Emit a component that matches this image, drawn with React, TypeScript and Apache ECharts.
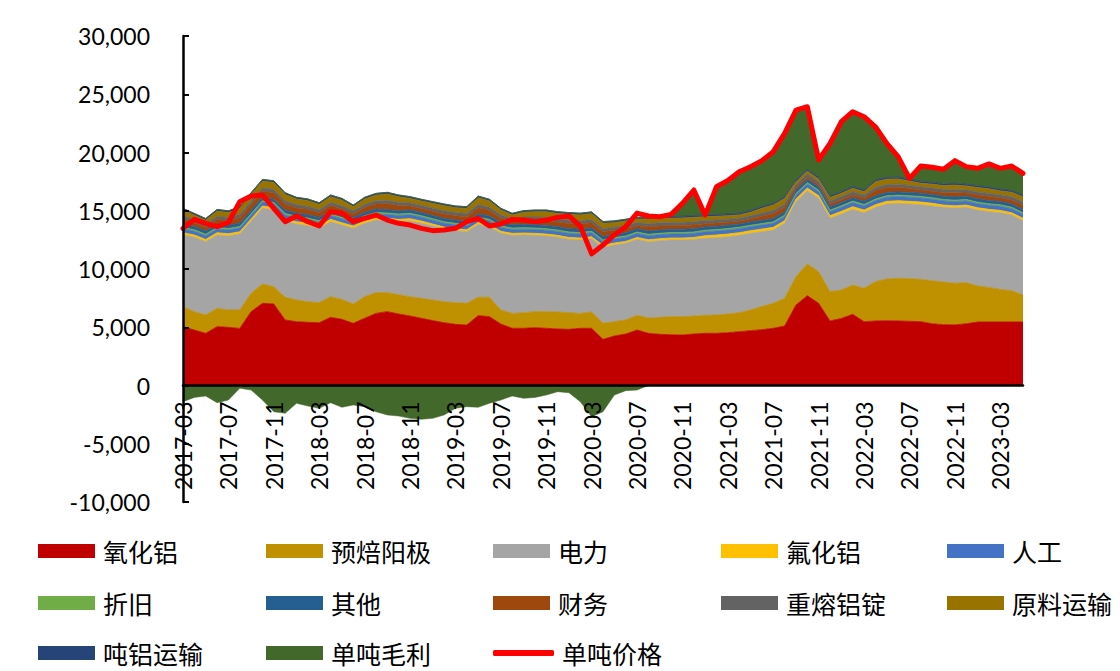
import React, { useEffect, useRef } from 'react';
import * as echarts from 'echarts';

const months = [
  '2017-03','2017-04','2017-05','2017-06','2017-07','2017-08','2017-09','2017-10','2017-11','2017-12',
  '2018-01','2018-02','2018-03','2018-04','2018-05','2018-06','2018-07','2018-08','2018-09','2018-10','2018-11','2018-12',
  '2019-01','2019-02','2019-03','2019-04','2019-05','2019-06','2019-07','2019-08','2019-09','2019-10','2019-11','2019-12',
  '2020-01','2020-02','2020-03','2020-04','2020-05','2020-06','2020-07','2020-08','2020-09','2020-10','2020-11','2020-12',
  '2021-01','2021-02','2021-03','2021-04','2021-05','2021-06','2021-07','2021-08','2021-09','2021-10','2021-11','2021-12',
  '2022-01','2022-02','2022-03','2022-04','2022-05','2022-06','2022-07','2022-08','2022-09','2022-10','2022-11','2022-12',
  '2023-01','2023-02','2023-03','2023-04','2023-05',
];

// 氧化铝
const alumina = [
  5050,4760,4480,5050,4990,4900,6340,7050,7000,5620,
  5480,5420,5390,5850,5680,5340,5770,6190,6340,6140,5970,5770,
  5570,5390,5250,5190,6000,5910,5280,4910,4910,4960,4910,4850,
  4820,4910,4910,3960,4250,4420,4760,4480,4390,4360,4330,4420,
  4480,4480,4530,4620,4710,4790,4910,5110,6910,7710,7050,5540,
  5760,6110,5480,5540,5560,5540,5510,5480,5300,5220,5200,5300,
  5450,5450,5450,5450,5450,
];
// 预焙阳极
const anode = [
  1710,1580,1570,1570,1490,1580,1570,1660,1480,1950,
  1860,1770,1720,1770,1710,1650,1850,1780,1630,1650,1650,1710,
  1770,1800,1860,1860,1580,1660,1200,1280,1340,1380,1430,1460,
  1430,1280,1400,1380,1230,1200,1260,1310,1460,1550,1580,1540,
  1540,1570,1610,1630,1770,2000,2140,2370,2430,2720,2720,2510,
  2430,2510,2860,3370,3580,3660,3660,3630,3690,3660,3570,3520,
  3090,2970,2800,2690,2320,
];
// 电力
const power = [
  6160,6380,6290,6300,6350,6520,6190,6500,6580,6550,
  6520,6530,6380,6440,6380,6500,6300,6230,6180,6270,6500,6440,
  6350,6240,6180,6150,6240,6060,6580,6700,6670,6550,6490,6410,
  6290,6300,6290,6520,6580,6580,6520,6550,6580,6580,6580,6580,
  6610,6640,6630,6640,6580,6410,6300,6440,6440,6290,6290,6300,
  6530,6500,6490,6380,6440,6430,6410,6410,6420,6410,6460,6470,
  6520,6500,6580,6490,6380,
];
// 氟化铝
const fluoride = [
  200,200,200,200,200,200,200,200,200,200,
  200,200,200,200,200,200,200,200,200,200,200,200,
  170,170,170,170,170,170,170,170,170,170,170,170,
  170,170,170,170,170,170,170,170,170,170,170,170,
  230,230,230,230,230,230,230,230,230,230,230,230,
  230,230,230,230,230,230,230,230,230,200,200,200,
  200,200,200,200,200,
];
// 人工
const labor = [
  320,320,320,320,320,320,320,320,320,320,
  330,330,330,330,330,330,330,330,330,330,330,330,
  330,330,330,330,330,330,330,330,330,330,330,330,
  340,340,340,340,340,340,340,340,340,340,340,340,
  340,340,340,340,340,340,340,340,340,340,340,340,
  350,350,350,350,350,350,350,350,350,350,350,350,
  350,350,350,350,350,
];
// 折旧
const depreciation = [
  130,130,130,130,130,130,130,130,130,130,
  130,130,130,130,130,130,130,130,130,130,130,130,
  130,130,130,130,130,130,130,130,130,130,130,130,
  130,130,130,130,130,130,130,130,130,130,130,130,
  130,130,130,130,130,130,130,130,130,130,130,130,
  130,130,130,130,130,130,130,130,130,130,130,130,
  130,130,130,130,130,
];
// 其他
const other = [
  280,280,280,280,280,280,280,280,280,280,
  280,280,280,280,280,280,280,280,280,280,280,280,
  280,280,280,280,280,280,280,280,280,280,280,280,
  280,280,280,280,280,280,280,280,280,280,280,280,
  280,280,280,280,280,280,280,280,280,280,280,280,
  280,280,280,280,280,280,280,280,280,280,280,280,
  280,280,280,280,280,
];
// 财务
const finance = [
  440,325,295,395,380,470,520,540,555,510,
  440,440,395,440,440,295,410,440,510,440,340,325,
  355,385,370,385,530,485,385,255,355,395,425,410,
  455,455,455,410,340,340,255,355,340,310,325,325,
  280,270,255,225,255,355,420,420,205,180,180,240,
  235,250,250,450,410,395,335,265,280,295,345,280,
  325,340,295,340,380,
];
// 重熔铝锭
const remelt = [
  270,270,270,270,270,270,270,270,270,270,
  270,270,270,270,270,270,270,270,270,270,270,270,
  270,270,270,270,270,270,270,270,270,270,270,270,
  270,270,270,270,270,270,270,270,270,270,270,270,
  270,270,270,270,270,270,270,270,270,270,270,270,
  270,270,270,270,270,270,270,270,270,270,270,270,
  270,270,270,270,270,
];
// 原料运输
const materialFreight = [
  490,375,345,445,430,520,570,590,605,560,
  490,490,445,490,490,345,460,490,560,490,390,375,
  405,435,420,435,580,535,435,305,405,445,475,460,
  505,505,505,460,390,390,305,405,390,360,375,375,
  330,320,305,275,305,405,470,470,255,230,230,290,
  285,300,300,500,460,445,385,315,330,345,395,330,
  375,390,345,390,430,
];
// 吨铝运输
const ingotFreight = [
  150,150,150,150,150,150,150,150,150,150,
  150,150,150,150,150,150,150,150,150,150,150,150,
  150,150,150,150,150,150,150,150,150,150,150,150,
  150,150,150,150,150,150,150,150,150,150,150,150,
  150,150,150,150,150,150,150,150,150,150,150,150,
  150,150,150,150,150,150,150,150,150,150,150,150,
  150,150,150,150,150,
];
// 单吨毛利
const profit = [
  -1390,-1020,-900,-1470,-1250,-240,-390,-1250,-2250,-2390,
  -1530,-1760,-1960,-1470,-1870,-1670,-1820,-2250,-2530,-2620,-2820,-2900,
  -2820,-2530,-1960,-1820,-1870,-1530,-1250,-900,-1100,-1020,-820,-530,
  -620,-1390,-2680,-2250,-820,-440,-390,110,0,190,1100,2200,
  0,2380,2870,3560,3760,3940,4430,5430,6000,5400,1490,4500,
  5990,6420,6280,4560,2920,1760,70,1330,1300,1250,1950,1510,
  1500,1990,1790,2100,1870,
];
// 单吨价格
const price = [
  13490,14260,13920,13630,13980,15780,16260,16350,15200,14060,
  14550,14060,13690,14920,14780,14060,14350,14630,14200,13920,13770,13490,
  13290,13350,13490,14060,14350,13690,13860,14260,14200,14060,14200,14430,
  14550,13690,11300,12060,12920,13630,14800,14550,14490,14690,15630,16780,
  14630,17060,17600,18350,18780,19300,20070,21640,23640,23930,19360,20780,
  22640,23500,23070,22210,20780,19640,17780,18840,18730,18560,19300,18790,
  18640,19020,18640,18840,18210,
];

const yMin = -10000;
const yMax = 30000;
const yStep = 5000;

const costNames = ['氧化铝','预焙阳极','电力','氟化铝','人工','折旧','其他','财务','重熔铝锭','原料运输','吨铝运输'];
const costData = [alumina, anode, power, fluoride, labor, depreciation, other, finance, remelt, materialFreight, ingotFreight];
const costColors = ['#C00000','#BF9000','#A5A5A5','#FFC000','#4472C4','#70AD47','#255E91','#9E480E','#636363','#997300','#264478'];
const profitName = '单吨毛利';
const profitColor = '#43682B';
const priceName = '单吨价格';
const priceColor = '#FF0000';

const legendOrder = [
  '氧化铝','预焙阳极','电力','氟化铝','人工',
  '折旧','其他','财务','重熔铝锭','原料运输',
  '吨铝运输','单吨毛利','单吨价格',
];

export default function App() {
  const ref = useRef<HTMLDivElement>(null);
  useEffect(() => {
    if (!ref.current) return;
    const chart = echarts.init(ref.current, null, { renderer: 'svg' });

    const gridTop = 36;
    const gridBottom = 169;
    const gridHeight = 671 - gridTop - gridBottom;
    // distance from grid bottom up to the zero line
    const zeroOffset = (gridHeight * (0 - yMin)) / (yMax - yMin);

    const series: any[] = costNames.map((name, i) => ({
      name,
      type: 'line',
      stack: 'total',
      data: costData[i],
      symbol: 'none',
      showSymbol: false,
      color: costColors[i],
      itemStyle: { color: costColors[i] },
      lineStyle: { width: 0.8, color: costColors[i] },
      areaStyle: { color: costColors[i], opacity: 1 },
      silent: true,
    }));
    series.push({
      name: profitName,
      type: 'line',
      stack: 'total',
      data: profit.map((v) => (v > 0 ? v : 0)),
      symbol: 'none',
      showSymbol: false,
      color: profitColor,
      itemStyle: { color: profitColor },
      lineStyle: { width: 0.8, color: profitColor },
      areaStyle: { color: profitColor, opacity: 1 },
      silent: true,
    });
    series.push({
      name: profitName,
      type: 'line',
      data: profit.map((v) => (v < 0 ? v : 0)),
      symbol: 'none',
      showSymbol: false,
      color: profitColor,
      itemStyle: { color: profitColor },
      lineStyle: { width: 0.5, color: profitColor },
      areaStyle: { color: profitColor, opacity: 1 },
      silent: true,
    });
    series.push({
      name: priceName,
      type: 'line',
      data: price,
      symbol: 'none',
      showSymbol: false,
      color: priceColor,
      itemStyle: { color: priceColor },
      lineStyle: { width: 5, color: priceColor, join: 'round', cap: 'round' },
      silent: true,
      z: 5,
    });

    const colLeft = [38, 266, 493, 721, 947];
    const rowCenter = [551, 603, 653];
    const legends = legendOrder.map((name, i) => {
      const col = i % 5;
      const row = Math.floor(i / 5);
      const isLine = name === priceName;
      return {
        data: [{ name, icon: isLine ? 'roundRect' : 'rect' }],
        left: colLeft[col],
        top: rowCenter[row] - 13,
        padding: 0,
        itemWidth: isLine ? 61 : 57,
        itemHeight: isLine ? 6 : 14,
        selectedMode: false,
        itemStyle: { borderWidth: 0 },
        textStyle: {
          fontSize: 25,
          lineHeight: 26,
          color: '#000',
          fontFamily: '"Noto Sans CJK SC", sans-serif',
          padding: [0, 0, 0, 3],
        },
      };
    });

    chart.setOption({
      animation: false,
      backgroundColor: '#ffffff',
      textStyle: { fontFamily: 'Lato, "Noto Sans CJK SC", sans-serif' },
      grid: { left: 183, right: 97, top: gridTop, bottom: gridBottom, containLabel: false, outerBoundsMode: 'none' },
      legend: legends,
      xAxis: {
        type: 'category',
        data: months,
        boundaryGap: false,
        position: 'bottom',
        offset: -zeroOffset,
        z: 10,
        axisLine: { show: true, onZero: false, lineStyle: { color: '#000', width: 2.5 } },
        axisTick: { show: false },
        splitLine: { show: false },
        axisLabel: {
          interval: 3,
          rotate: 90,
          fontSize: 23,
          margin: 16,
          color: '#000',
          fontFamily: 'Lato',
        },
      },
      yAxis: {
        type: 'value',
        min: yMin,
        max: yMax,
        interval: yStep,
        z: 10,
        axisLine: { show: true, onZero: false, lineStyle: { color: '#000', width: 2.5 } },
        axisTick: { show: true, inside: true, length: 6, lineStyle: { color: '#000', width: 2 } },
        splitLine: { show: false },
        axisLabel: {
          fontSize: 23,
          margin: 33,
          color: '#000',
          fontFamily: 'Lato',
          formatter: (v: number) => v.toLocaleString('en-US'),
        },
      },
      series,
    });
    return () => chart.dispose();
  }, []);
  return (
    <div
      ref={ref}
      style={{ position: 'absolute', left: 0, top: 0, width: 1120, height: 671, background: '#fff' }}
    />
  );
}
